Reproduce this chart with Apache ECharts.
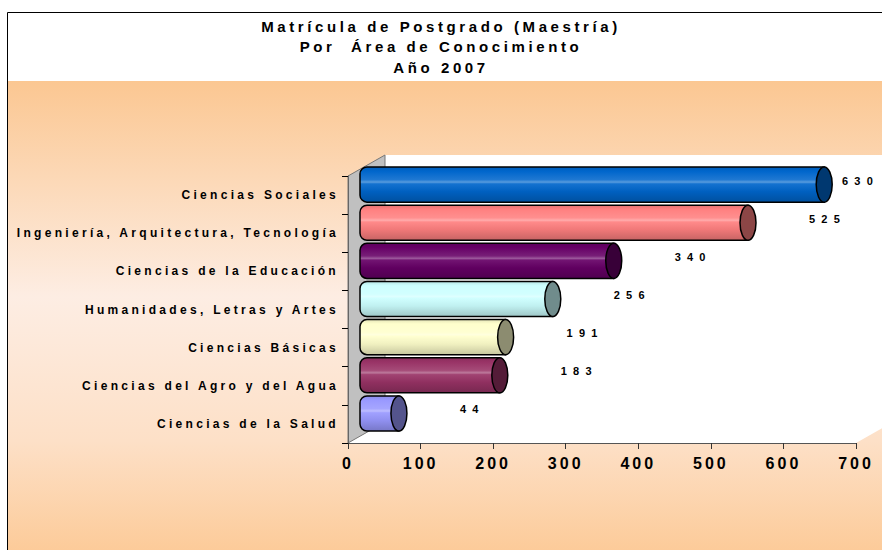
<!DOCTYPE html>
<html>
<head>
<meta charset="utf-8">
<script src="https://cdn.jsdelivr.net/npm/echarts@6/dist/echarts.min.js"></script>
<style>
    html, body { margin: 0; padding: 0; background: #fff; }
    #chart { width: 882px; height: 550px; }
    /* the original spaces its letters out wide */
    #chart text[style*="15px"] { letter-spacing: 3.6px; }
    #chart text[style*="12px"] { letter-spacing: 3.3px; }
    #chart text[style*="16px"] { letter-spacing: 3px; }
    #chart text[style*="11px"] { letter-spacing: 6.2px; }
</style>
</head>
<body>
<div id="chart"></div>
<script>
    // categorias de abajo hacia arriba (el eje de categorias empieza abajo)
    var areas = ['Ciencias de la Salud', 'Ciencias del Agro y del Agua', 'Ciencias Básicas',
        'Humanidades, Letras y Artes', 'Ciencias de la Educación',
        'Ingeniería, Arquitectura, Tecnología', 'Ciencias Sociales'];
    var matricula = [44, 183, 191, 256, 340, 525, 630];
    var xTicks = [0, 100, 200, 300, 400, 500, 600, 700];
    var colores = ['#9999ff', '#993366', '#ffffcc', '#ccffff', '#660066', '#ff8080', '#0066cc'];

    var FONT = '"Liberation Sans", Arial, sans-serif';
    var DX = 37, DY = -21; // fondo 3D

    function mezcla(hex, otro, t) {
        var a = parseInt(hex.slice(1), 16), b = parseInt(otro.slice(1), 16);
        var r = Math.round(((a >> 16) & 255) * (1 - t) + ((b >> 16) & 255) * t);
        var g = Math.round(((a >> 8) & 255) * (1 - t) + ((b >> 8) & 255) * t);
        var bl = Math.round((a & 255) * (1 - t) + (b & 255) * t);
        return 'rgb(' + r + ',' + g + ',' + bl + ')';
    }

    function cilindro(params, api) {
        var v = api.value(0);
        var i = api.value(1);
        var p0 = api.coord([0, i]);
        var p1 = api.coord([v, i]);
        var band = api.size([0, 1])[1];
        var h = band * 0.92;
        var cy = p0[1] - band * 0.275;
        var x0 = p0[0] + 12;
        var x1 = p1[0] + 19;
        var c = colores[params.dataIndex];
        var relleno = new echarts.graphic.LinearGradient(0, 0, 0, 1, [
            {offset: 0, color: mezcla(c, '#000000', 0.1)},
            {offset: 0.12, color: c},
            {offset: 0.36, color: mezcla(c, '#ffffff', 0.12)},
            {offset: 0.43, color: mezcla(c, '#ffffff', 0.35)},
            {offset: 0.48, color: mezcla(c, '#ffffff', 0.08)},
            {offset: 0.7, color: mezcla(c, '#000000', 0.06)},
            {offset: 1, color: mezcla(c, '#000000', 0.22)}
        ]);
        // la etiqueta no debe salirse del lienzo
        var lx = Math.min(p1[0] + 80, api.getWidth() - 40);
        return {
            type: 'group',
            children: [
                {
                    type: 'rect',
                    shape: {x: x0, y: cy - h / 2, width: x1 - x0, height: h, r: [7, 0, 0, 7]},
                    style: {fill: relleno, stroke: '#000', lineWidth: 1.5}
                },
                {
                    type: 'ellipse',
                    shape: {cx: x1, cy: cy, rx: 8, ry: h / 2},
                    style: {fill: mezcla(c, '#000000', 0.45), stroke: '#000', lineWidth: 1.5}
                },
                {
                    type: 'text',
                    style: {
                        text: String(v), x: lx, y: cy - 4,
                        align: 'left', verticalAlign: 'middle',
                        fontSize: 11, fontWeight: 'bold', fontFamily: FONT, fill: '#000'
                    }
                }
            ]
        };
    }

    var chart = echarts.init(document.getElementById('chart'), null, {renderer: 'svg'});

    var datos = [];
    for (var k = 0; k < matricula.length; k++) {
        datos.push([matricula[k], k]);
    }

    chart.setOption({
        animation: false,
        backgroundColor: '#ffffff',
        title: {
            text: 'Matrícula de Postgrado (Maestría)\nPor  Área de Conocimiento\nAño 2007',
            left: 'center',
            top: 16,
            padding: 0,
            textStyle: {fontSize: 15, fontWeight: 'bold', fontFamily: FONT, color: '#000', lineHeight: 20.5}
        },
        grid: {left: 348, right: 26, top: 176, bottom: 107},
        xAxis: {
            type: 'value',
            min: xTicks[0],
            max: xTicks[xTicks.length - 1],
            interval: xTicks[1] - xTicks[0],
            axisLine: {show: true, lineStyle: {color: '#555', width: 1}},
            axisTick: {show: true, length: 6, lineStyle: {color: '#333'}},
            splitLine: {show: false},
            axisLabel: {fontSize: 16, fontWeight: 'bold', fontFamily: FONT, color: '#000', margin: 12}
        },
        yAxis: {
            type: 'category',
            data: areas,
            axisLine: {show: true, lineStyle: {color: '#666', width: 1}},
            axisTick: {show: true, length: 6, lineStyle: {color: '#000'}},
            axisLabel: {fontSize: 12, fontWeight: 'bold', fontFamily: FONT, color: '#000', margin: 9}
        },
        series: [{
            type: 'custom',
            renderItem: cilindro,
            encode: {x: 0, y: 1},
            data: datos,
            z: 5
        }]
    });

    // paredes del grafico 3D a partir de la cuadricula
    var L = chart.convertToPixel({xAxisIndex: 0}, xTicks[0]);
    var R = chart.convertToPixel({xAxisIndex: 0}, xTicks[xTicks.length - 1]);
    var c0 = chart.convertToPixel({yAxisIndex: 0}, 0);
    var c1 = chart.convertToPixel({yAxisIndex: 0}, 1);
    var paso = c0 - c1;
    var B = c0 + paso / 2;
    var T = chart.convertToPixel({yAxisIndex: 0}, areas.length - 1) - paso / 2;

    chart.setOption({
        graphic: [
            {
                type: 'rect', z: -10,
                shape: {x: 8, y: 81, width: 880, height: 480},
                style: {
                    fill: new echarts.graphic.LinearGradient(0, 0, 0, 1, [
                        {offset: 0, color: '#fbc792'},
                        {offset: 0.2, color: '#fcd8b6'},
                        {offset: 0.45, color: '#fdede3'},
                        {offset: 0.75, color: '#fde0c7'},
                        {offset: 1, color: '#fcc995'}
                    ])
                }
            },
            {
                type: 'rect', z: -9,
                shape: {x: 7.5, y: 12.5, width: 900, height: 600},
                style: {fill: 'none', stroke: '#000', lineWidth: 1}
            },
            {
                type: 'rect', z: -8,
                shape: {x: L + DX, y: T + DY, width: R - L, height: B - T},
                style: {fill: '#ffffff'}
            },
            {
                type: 'polygon', z: -8,
                shape: {points: [[L, B], [R, B], [R + DX, B + DY], [L + DX, B + DY]]},
                style: {fill: '#ffffff'}
            },
            {
                type: 'polygon', z: -7,
                shape: {points: [[L, T], [L + DX, T + DY], [L + DX, B + DY], [L, B]]},
                style: {fill: '#c0c0c0', stroke: '#777', lineWidth: 1}
            }
        ]
    });
</script>
</body>
</html>
